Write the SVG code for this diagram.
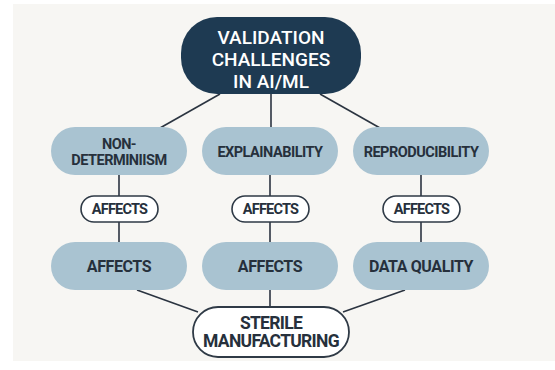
<svg xmlns="http://www.w3.org/2000/svg" width="555" height="370" viewBox="0 0 555 370">
  <style>
    .panel { fill: #f7f6f3; }
    .edge { stroke: #2b3440; stroke-width: 1.6; fill: none; }
    .root { fill: #1e3a52; }
    .topic { fill: #a9c3d1; }
    .tag { fill: #ffffff; stroke: #2f3a46; stroke-width: 1.6; }
    .sink { fill: #ffffff; stroke: #2f3a46; stroke-width: 1.8; }
    text { font-family: Roboto, "Liberation Sans", sans-serif; font-weight: 700; text-anchor: middle; dominant-baseline: central; fill: #26303c; }
    .rootText { fill: #ffffff; font-size: 19px; font-weight: 500; }
    .topicText { font-size: 14.5px; letter-spacing: -0.5px; }
    .tagText { font-size: 14.5px; letter-spacing: -0.8px; }
    .lowText { font-size: 16px; letter-spacing: -0.4px; }
    .sinkText { font-size: 17.5px; letter-spacing: -0.7px; }
  </style>

  <rect x="0" y="0" width="555" height="370" fill="#ffffff"/>
  <rect class="panel" x="13" y="4" width="542" height="357"/>

  <g id="connectors">
    <line class="edge" x1="220" y1="94" x2="160" y2="128"/>
    <line class="edge" x1="271" y1="94" x2="271" y2="127"/>
    <line class="edge" x1="320" y1="94" x2="380" y2="128"/>
    <line class="edge" x1="119" y1="175" x2="119" y2="242"/>
    <line class="edge" x1="270" y1="175" x2="270" y2="242"/>
    <line class="edge" x1="421" y1="175" x2="421" y2="242"/>
    <line class="edge" x1="137" y1="290" x2="198" y2="312"/>
    <line class="edge" x1="270" y1="290" x2="270" y2="307"/>
    <line class="edge" x1="405" y1="290" x2="343" y2="312"/>
  </g>

  <g id="root">
    <rect class="root" x="181" y="17" width="180" height="77" rx="36"/>
    <text class="rootText" x="271" y="37">VALIDATION</text>
    <text class="rootText" x="271" y="59">CHALLENGES</text>
    <text class="rootText" x="271" y="81">IN AI/ML</text>
  </g>

  <g id="non-determinism">
    <rect class="topic" x="51" y="127" width="136" height="48" rx="24"/>
    <text class="topicText" x="119" y="144">NON-</text>
    <text class="topicText" x="119" y="160">DETERMINIISM</text>
  </g>
  <g id="explainability">
    <rect class="topic" x="202" y="127" width="136" height="48" rx="24"/>
    <text class="topicText" x="270" y="152">EXPLAINABILITY</text>
  </g>
  <g id="reproducibility">
    <rect class="topic" x="353" y="127" width="136" height="48" rx="24"/>
    <text class="topicText" x="421" y="152">REPRODUCIBILITY</text>
  </g>

  <g id="affects-1">
    <rect class="tag" x="81" y="196" width="77" height="26" rx="13"/>
    <text class="tagText" x="119.5" y="209.5">AFFECTS</text>
  </g>
  <g id="affects-2">
    <rect class="tag" x="232" y="196" width="77" height="26" rx="13"/>
    <text class="tagText" x="270.5" y="209.5">AFFECTS</text>
  </g>
  <g id="affects-3">
    <rect class="tag" x="383" y="196" width="77" height="26" rx="13"/>
    <text class="tagText" x="421.5" y="209.5">AFFECTS</text>
  </g>

  <g id="outcome-1">
    <rect class="topic" x="51" y="242" width="136" height="48" rx="24"/>
    <text class="lowText" x="119" y="266">AFFECTS</text>
  </g>
  <g id="outcome-2">
    <rect class="topic" x="202" y="242" width="136" height="48" rx="24"/>
    <text class="lowText" x="270" y="266">AFFECTS</text>
  </g>
  <g id="data-quality">
    <rect class="topic" x="353" y="242" width="136" height="48" rx="24"/>
    <text class="lowText" x="421" y="266">DATA QUALITY</text>
  </g>

  <g id="sterile-manufacturing">
    <rect class="sink" x="193" y="307" width="156" height="50" rx="25"/>
    <text class="sinkText" x="271" y="323">STERILE</text>
    <text class="sinkText" x="271" y="341">MANUFACTURING</text>
  </g>
</svg>
